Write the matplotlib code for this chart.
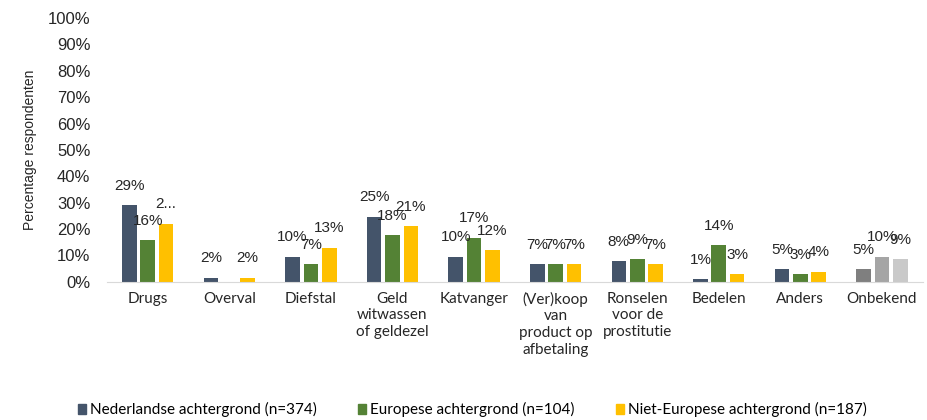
import matplotlib
matplotlib.use("Agg")
import matplotlib.pyplot as plt
from matplotlib.patches import Patch
import numpy as np

categories = ["Drugs", "Overval", "Diefstal", "Geld\nwitwassen\nof geldezel", "Katvanger",
              "(Ver)koop\nvan\nproduct op\nafbetaling", "Ronselen\nvoor de\nprostitutie",
              "Bedelen", "Anders", "Onbekend"]
series_names = ["Nederlandse achtergrond (n=374)", "Europese achtergrond (n=104)",
                "Niet-Europese achtergrond (n=187)"]
nederlands = [29, 1.6, 9.5, 24.6, 9.5, 6.7, 7.8, 0.9, 4.8, 4.8]
europees = [15.8, 0, 6.7, 17.6, 16.8, 6.7, 8.6, 13.9, 2.9, 9.5]
niet_europees = [22.1, 1.6, 12.9, 21.1, 12.0, 6.7, 6.7, 2.9, 3.9, 8.6]
labels_ned = ["29%", "2%", "10%", "25%", "10%", "7%", "8%", "1%", "5%", "5%"]
labels_eur = ["16%", "", "7%", "18%", "17%", "7%", "9%", "14%", "3%", "10%"]
labels_niet = ["2...", "2%", "13%", "21%", "12%", "7%", "7%", "3%", "4%", "9%"]
y_ticks = list(range(0, 101, 10))

colors = ["#44546A", "#548235", "#FFC000"]
onbekend_colors = ["#7F7F7F", "#A5A5A5", "#C9C9C9"]

fig = plt.figure(figsize=(9.28, 4.2), dpi=100)
ax = fig.add_axes([0.1153, 0.329, 0.879, 0.628])

x = np.arange(len(categories))
width = 0.18
offset = 0.225
all_vals = [nederlands, europees, niet_europees]
all_labels = [labels_ned, labels_eur, labels_niet]
for i, (vals, labs) in enumerate(zip(all_vals, all_labels)):
    cols = [colors[i]] * len(categories)
    cols[-1] = onbekend_colors[i]
    xs = x + (i - 1) * offset
    ax.bar(xs, vals, width=width, color=cols, zorder=2)
    for xi, v, lab in zip(xs, vals, labs):
        if lab:
            ax.annotate(lab, (xi, v), xytext=(0, 14), textcoords="offset points",
                        ha="center", va="center", fontsize=11,
                        family="Liberation Sans", color="#262626")

ax.set_xlim(-0.5, len(categories) - 0.5)
ax.set_ylim(0, 100)
ax.set_yticks(y_ticks)
ax.set_yticklabels([f"{t}%" for t in y_ticks], family="Liberation Sans", fontsize=12, color="#262626")
ax.set_xticks(x)
ax.set_xticklabels(categories, family="Lato", fontsize=11, color="#262626", linespacing=1.25)
ax.tick_params(axis="both", length=0)
ax.tick_params(axis="x", pad=7)
ax.tick_params(axis="y", pad=12)
for s in ["top", "right", "left"]:
    ax.spines[s].set_visible(False)
ax.spines["bottom"].set_color("#D9D9D9")
ax.set_ylabel("Percentage respondenten", family="Liberation Sans", fontsize=10, color="#262626", labelpad=8)

handles = [Patch(color=c) for c in colors]
fig.legend(handles, series_names, loc="center", bbox_to_anchor=(0.509, 0.024), ncol=3,
           frameon=False, prop={"family": "Lato", "size": 11}, handlelength=0.55,
           handleheight=0.55, handletextpad=0.25, columnspacing=2.7)

fig.savefig("out.png", dpi=100)
